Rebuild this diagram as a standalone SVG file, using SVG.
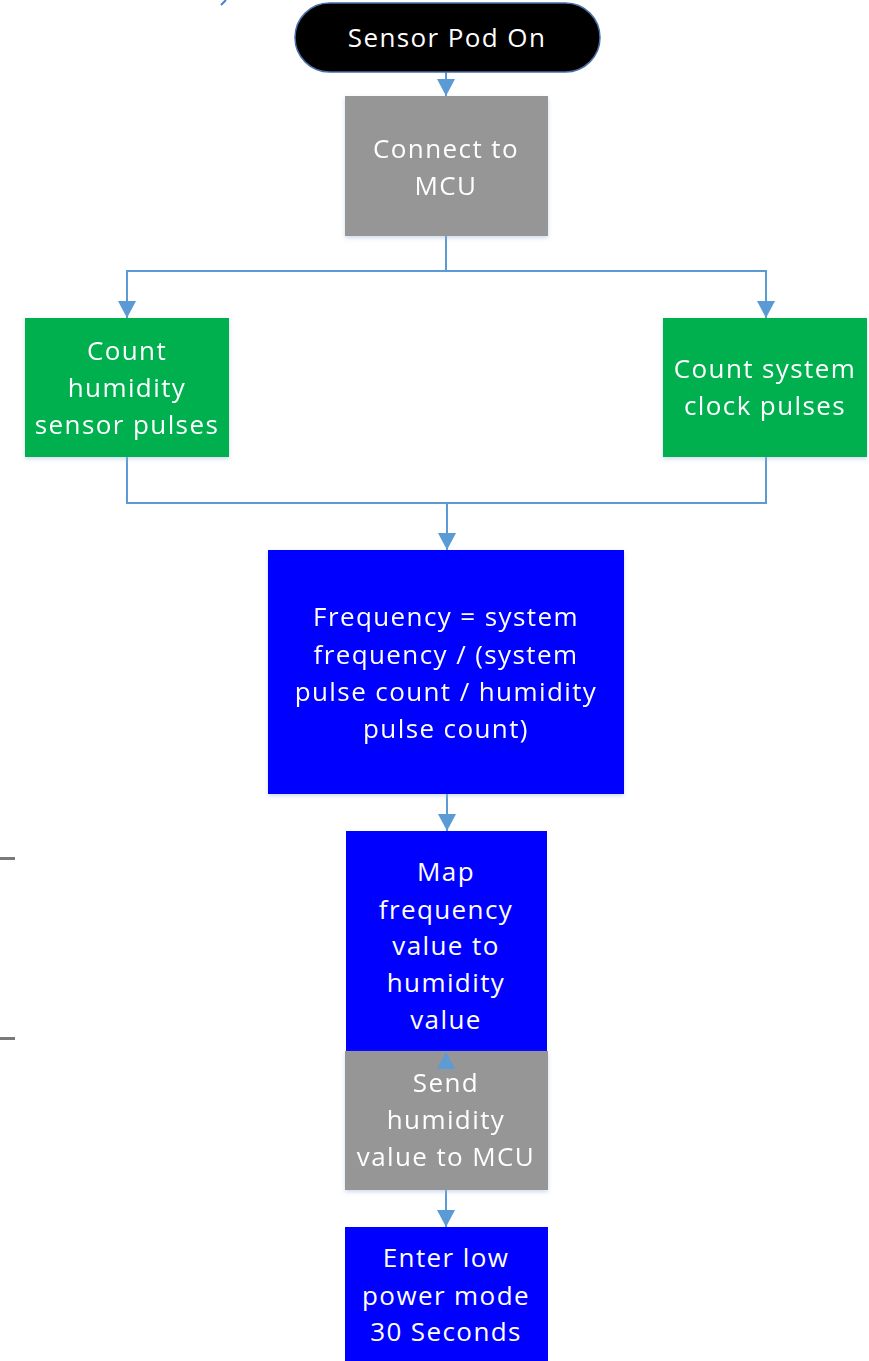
<svg xmlns="http://www.w3.org/2000/svg" width="869" height="1361" viewBox="0 0 869 1361">
  <style>
    .lbl { font-family: "Open Sans", "Liberation Sans", sans-serif; font-size: 26px; fill: #ffffff; text-anchor: middle; letter-spacing: 1.4px; }
    .gray { fill: #969696; }
    .green { fill: #00b050; }
    .blue { fill: #0000ff; }
    .conn { fill: none; stroke: #5b9bd5; stroke-width: 2; }
  </style>
  <defs>
    <marker id="arrow" viewBox="0 0 17 18" refX="17" refY="9" markerWidth="17" markerHeight="18" markerUnits="userSpaceOnUse" orient="auto">
      <path d="M0,0 L17,9 L0,18 Z" fill="#5b9bd5"/>
    </marker>
    <filter id="shadow" x="-10%" y="-10%" width="120%" height="125%">
      <feDropShadow dx="0" dy="2" stdDeviation="2" flood-color="#9db6d8" flood-opacity="0.5"/>
    </filter>
  </defs>
  <rect width="869" height="1361" fill="#ffffff"/>

  <!-- stray heading fragment and margin ticks -->
  <path d="M226,0 L221,5" stroke="#4a7fd4" stroke-width="2" fill="none"/>
  <rect x="0" y="857" width="15" height="3" fill="#7a7a7a"/>
  <rect x="0" y="1037" width="15" height="3" fill="#7a7a7a"/>

  <g id="connectors">
    <path class="conn" d="M446,72 L446,96" marker-end="url(#arrow)"/>
    <path class="conn" d="M446,236 L446,271 L127,271 L127,318" marker-end="url(#arrow)"/>
    <path class="conn" d="M446,271 L766,271 L766,318" marker-end="url(#arrow)"/>
    <path class="conn" d="M127,457 L127,503 L766,503 L766,457"/>
    <path class="conn" d="M447,503 L447,550" marker-end="url(#arrow)"/>
    <path class="conn" d="M447,794 L447,831" marker-end="url(#arrow)"/>
    <path class="conn" d="M446,1190 L446,1227" marker-end="url(#arrow)"/>
  </g>

  <g id="start">
    <rect x="295" y="3" width="305" height="69" rx="34.5" fill="#000000" stroke="#4a6fa5" stroke-width="1.5"/>
    <text class="lbl" x="447" y="47">Sensor Pod On</text>
  </g>

  <g id="connect-mcu" filter="url(#shadow)">
    <rect class="gray" x="345" y="96" width="203" height="140"/>
    <text class="lbl" x="446" y="158">Connect to</text>
    <text class="lbl" x="446" y="195">MCU</text>
  </g>

  <g id="count-humidity" filter="url(#shadow)">
    <rect class="green" x="25" y="318" width="204" height="139"/>
    <text class="lbl" x="127" y="360">Count</text>
    <text class="lbl" x="127" y="397">humidity</text>
    <text class="lbl" x="127" y="434">sensor pulses</text>
  </g>

  <g id="count-clock" filter="url(#shadow)">
    <rect class="green" x="663" y="318" width="204" height="139"/>
    <text class="lbl" x="765" y="378">Count system</text>
    <text class="lbl" x="765" y="415">clock pulses</text>
  </g>

  <g id="frequency" filter="url(#shadow)">
    <rect class="blue" x="268" y="550" width="356" height="244"/>
    <text class="lbl" x="446" y="626">Frequency = system</text>
    <text class="lbl" x="446" y="664">frequency / (system</text>
    <text class="lbl" x="446" y="701">pulse count / humidity</text>
    <text class="lbl" x="446" y="738">pulse count)</text>
  </g>

  <g id="map-humidity">
    <rect class="blue" x="346" y="831" width="201" height="220"/>
    <text class="lbl" x="446" y="881">Map</text>
    <text class="lbl" x="446" y="919">frequency</text>
    <text class="lbl" x="446" y="955">value to</text>
    <text class="lbl" x="446" y="992">humidity</text>
    <text class="lbl" x="446" y="1029">value</text>
  </g>

  <g id="send-humidity" filter="url(#shadow)">
    <rect class="gray" x="345" y="1051" width="203" height="139"/>
    <path d="M446,1052 L455,1069 L437,1069 Z" fill="#5b9bd5"/>
    <text class="lbl" x="446" y="1092">Send</text>
    <text class="lbl" x="446" y="1129">humidity</text>
    <text class="lbl" x="446" y="1166">value to MCU</text>
  </g>

  <g id="low-power">
    <rect class="blue" x="345" y="1227" width="203" height="140"/>
    <text class="lbl" x="446" y="1267">Enter low</text>
    <text class="lbl" x="446" y="1305">power mode</text>
    <text class="lbl" x="446" y="1341">30 Seconds</text>
  </g>
</svg>
